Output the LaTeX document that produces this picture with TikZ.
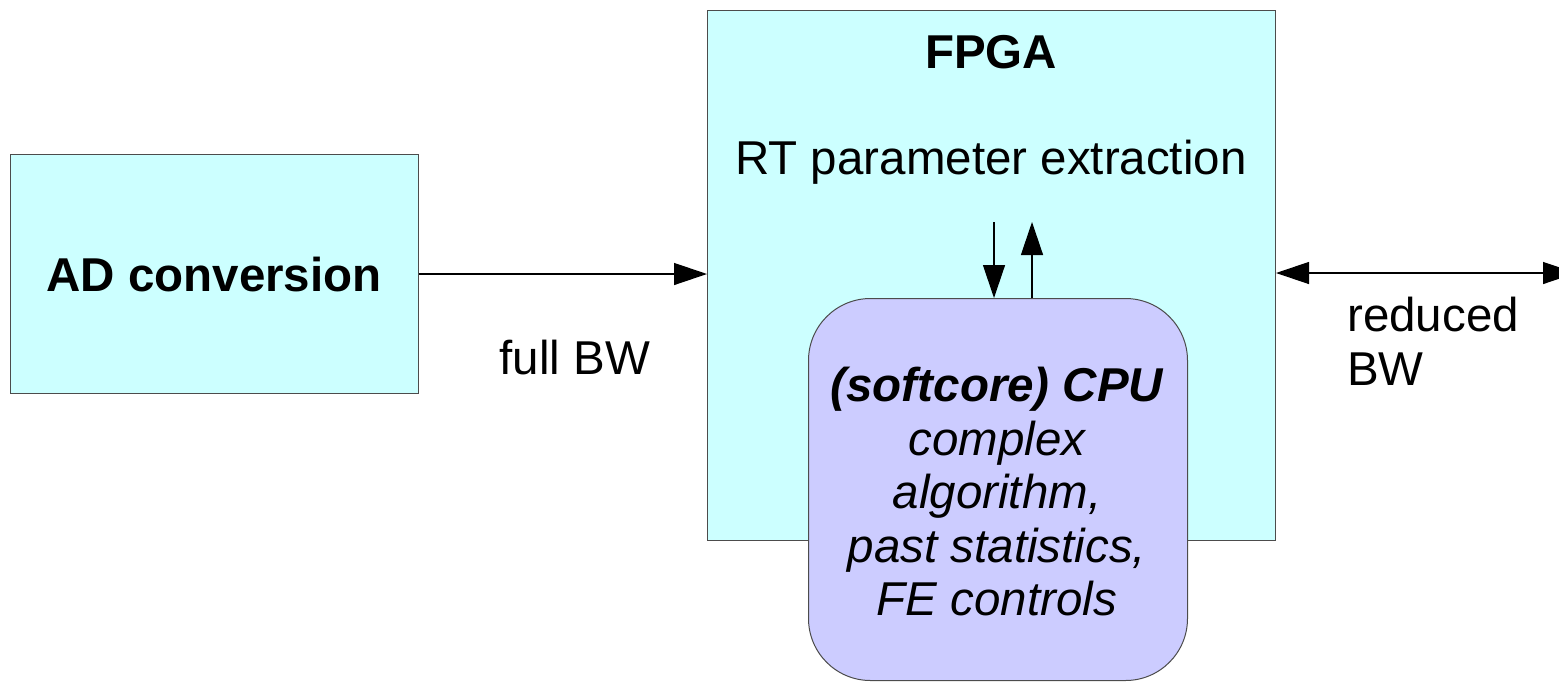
\documentclass[tikz,border=0pt]{standalone}
\usepackage{fontspec}
\setmainfont{Liberation Sans}
\usetikzlibrary{arrows.meta}
\begin{document}
\begin{tikzpicture}[x=1pt,y=-1pt,
  box/.style={draw=black!70,line width=1pt,inner sep=0pt},
  lbl/.style={inner sep=0pt,font=\fontsize{47.5}{53.5}\selectfont},
  conn/.style={line width=1.3pt,-{Triangle[length=33pt,width=22pt]}},
  dconn/.style={line width=1.3pt,{Triangle[length=33pt,width=22pt]}-{Triangle[length=33pt,width=22pt]}}]
\useasboundingbox (0,0) rectangle (1559,681);
\node[box,fill={rgb,255:red,204;green,255;blue,255},minimum width=408pt,minimum height=239pt,anchor=north west] (ad) at (10,154) {};
\node[box,fill={rgb,255:red,204;green,255;blue,255},minimum width=568pt,minimum height=530pt,anchor=north west] (fpga) at (707,10) {};
\node[box,fill={rgb,255:red,204;green,204;blue,255},rounded corners=62pt,minimum width=379pt,minimum height=382pt,anchor=north west] (cpu) at (808,298) {};
\node[lbl,anchor=base,font=\fontsize{47.5}{53.5}\selectfont\bfseries] (adt) at (214,291) {AD conversion};
\node[lbl,anchor=base,font=\fontsize{47.5}{53.5}\selectfont\bfseries] (fpgat) at (991,68) {FPGA};
\node[lbl,anchor=base] (rt) at (991,174) {RT parameter extraction};
\node[lbl,anchor=base] (full) at (575,374) {full BW};
\node[lbl,anchor=base west,align=left] (red) at (1347,385) {reduced\\BW};
\node[lbl,align=center,font=\fontsize{47.5}{53.5}\selectfont\itshape] (cput) at (997,492) {\textbf{(softcore) CPU}\\complex\\algorithm,\\past statistics,\\FE controls};
\coordinate (dtop) at (994,222);
\coordinate (utop) at (1032,222);
\coordinate (rend) at (1576,273);
\draw[conn] (ad.east |- 0,274) -- (fpga.west |- 0,274);
\draw[conn] (dtop) -- (dtop |- cpu.north);
\draw[conn] (utop |- cpu.north) -- (utop);
\draw[dconn] (fpga.east |- rend) -- (rend);
\end{tikzpicture}
\end{document}
